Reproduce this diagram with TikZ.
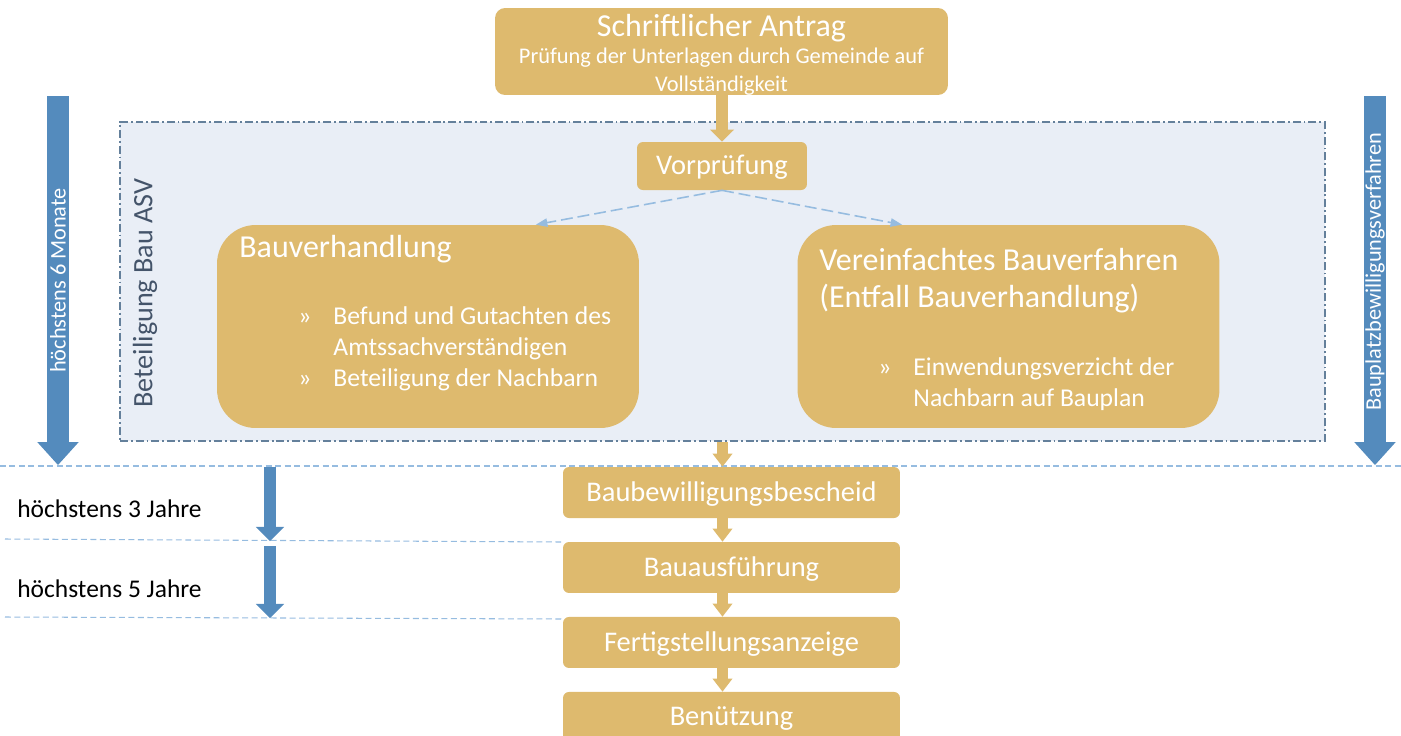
\documentclass[tikz,border=0pt]{standalone}
\usepackage{fontspec}
\setmainfont{Carlito}
\usetikzlibrary{positioning}
\usetikzlibrary{arrows.meta}
\definecolor{gold}{RGB}{222,186,110}
\definecolor{asvfill}{RGB}{233,238,246}
\definecolor{asvline}{RGB}{100,128,155}
\definecolor{asvtext}{RGB}{68,84,106}
\definecolor{arrowblue}{RGB}{84,139,189}
\definecolor{lineblue}{RGB}{150,188,224}
\newcommand{\bul}{\makebox[20pt][l]{»}} % bullet of the lists
\tikzset{node distance=1.5cm, % Distance between the steps at the bottom
stepbox/.style={ % Golden boxes of the procedure
fill=gold,
rounded corners=3.4pt,
inner sep=0pt,
text=white,
text height=1.12em,
text depth=0.15em,
font=\fontsize{16.2pt}{19pt}\selectfont},
bigbox/.style={ % The two variants of the procedure
fill=gold,
rounded corners=22pt,
inner sep=0pt,
minimum width=8.44cm,
minimum height=4.06cm},
headtext/.style={ % Headings in the boxes
text=white,
inner sep=0pt,
font=\fontsize{18.2pt}{20.5pt}\selectfont},
subtext/.style={ % Small text in the first box
text=white,
inner sep=0pt,
font=\fontsize{12.75pt}{16pt}\selectfont},
listtext/.style={ % Bullet lists
text=white,
inner sep=0pt,
align=left,
font=\fontsize{14.6pt}{17.4pt}\selectfont},
asvframe/.style={ % Frame round the part of the ASV
fill=asvfill,
draw=asvline,
line width=0.85pt,
dash pattern=on 4.5pt off 1.7pt on 1pt off 1.7pt},
goldarrow/.style={ % Arrows between the steps
draw=gold,
line width=5.7pt,
-{Triangle[width=11.4pt,length=7.4pt,line width=0pt]}},
optarrow/.style={ % Dashed arrows to the two variants
draw=lineblue,
line width=0.9pt,
dash pattern=on 6.8pt off 2.8pt,
-{Triangle[width=5pt,length=6.5pt,line width=0pt]}},
timeline/.style={ % Dashed lines between the periods
draw=lineblue,
line width=0.6pt,
dash pattern=on 3.4pt off 2pt},
longarrow/.style={ % Big blue arrows at the sides
draw=arrowblue,
line width=13pt,
-{Triangle[width=23.5pt,length=13pt,line width=0pt]}},
shortarrow/.style={ % Small blue arrows of the periods
draw=arrowblue,
line width=6.8pt,
-{Triangle[width=16pt,length=8pt,line width=0pt]}},
arrowlabel/.style={ % Text on the blue arrows
text=white,
inner sep=0pt,
font=\fontsize{12.7pt}{15pt}\selectfont},
sidetext/.style={ % Periods on the left
text=black,
inner sep=0pt,
font=\fontsize{14.5pt}{17pt}\selectfont}}

\begin{document}
\begin{tikzpicture}[x=0.02cm, y=-0.02cm]
\useasboundingbox (0,0) rectangle (1401,735);
% part of the ASV
\node[asvframe, minimum width=24.1cm, minimum height=6.38cm] (frame) at (722.5,281.5) {};
\node[inner sep=0pt, text=asvtext, rotate=90, font=\fontsize{16pt}{19pt}\selectfont] (asv) at (145,293) {Beteiligung Bau ASV};

% lines between the periods
\draw[timeline] (0,466) -- (1401,466);
\draw[timeline] (5,539) -- (563,542);
\draw[timeline] (5,617) -- (563,619);

% first step
\node[stepbox, rounded corners=5.7pt, minimum width=9.06cm, minimum height=1.74cm] (antrag) at (721.5,51.5) {};
\node[headtext, anchor=base] (antragtitle) at (721.5,36) {Schriftlicher Antrag};
\node[subtext, anchor=base] (antragsub) at (721.5,63) {Prüfung der Unterlagen durch Gemeinde auf};
\node[subtext, anchor=base] (antragsub2) at (721.5,91) {Vollständigkeit};

\node[stepbox, minimum width=3.4cm, minimum height=0.96cm] (vorpr) at (722,166) {Vorprüfung};

% the two variants (multi-line texts are placed by their last line)
\node[bigbox] (bauverh) at (428,326.5) {};
\node[headtext, anchor=base west] (bauverhtitle) at (239,257) {Bauverhandlung};
\node[listtext, anchor=base west] (bauverhlist) at (298,386) {\bul Befund und Gutachten des\\\hspace*{20pt}Amtssachverständigen\\\bul Beteiligung der Nachbarn};

\node[bigbox] (vereinf) at (1008.5,326.5) {};
\node[headtext, align=left, anchor=base west] (vereinftitle) at (819,307) {Vereinfachtes Bauverfahren\\(Entfall Bauverhandlung)};
\node[listtext, anchor=base west] (vereinflist) at (878,406) {\bul Einwendungsverzicht der\\\hspace*{20pt}Nachbarn auf Bauplan};

% steps after the decision
\node[stepbox, minimum width=6.74cm, minimum height=1.02cm] (bescheid) at (731.5,492.5) {Baubewilligungsbescheid};
\node[stepbox, minimum width=6.74cm, minimum height=1.02cm, below of=bescheid] (ausf) {Bauausführung};
\node[stepbox, minimum width=6.74cm, minimum height=1.02cm, below of=ausf] (fertig) {Fertigstellungsanzeige};
\node[stepbox, minimum width=6.74cm, minimum height=1.02cm, below of=fertig] (benutz) {Benützung};

\draw (antrag.south -| vorpr) edge[goldarrow, line width=6.8pt, -{Triangle[width=13.7pt,length=6.8pt,line width=0pt]}] (vorpr.north)
(frame.south) edge[goldarrow] (bescheid.north -| frame.south)
(bescheid.south -| frame.south) edge[goldarrow] (ausf.north -| frame.south)
(ausf.south -| frame.south) edge[goldarrow] (fertig.north -| frame.south)
(fertig.south -| frame.south) edge[goldarrow] (benutz.north -| frame.south);

\draw (vorpr.south) edge[optarrow] ([xshift=2.16cm]bauverh.north)
(vorpr.south) edge[optarrow] ([xshift=-2.13cm]vereinf.north);

% periods
\coordinate (m6top) at (58,96);
\coordinate (m6end) at (58,465);
\draw[longarrow] (m6top) -- node[arrowlabel, rotate=90] (m6) {höchstens 6 Monate} (m6end);
\coordinate (bptop) at (1375,96);
\coordinate (bpend) at (1375,465);
\draw[longarrow] (bptop) -- node[arrowlabel, rotate=90, xshift=5pt] (bp) {Bauplatzbewilligungsverfahren} (bpend);

\coordinate (j3top) at (270,467);
\coordinate (j3end) at (270,541);
\draw[shortarrow] (j3top) -- (j3end);
\coordinate (j5top) at (270,546);
\coordinate (j5end) at (270,618);
\draw[shortarrow] (j5top) -- (j5end);
\node[sidetext, anchor=west] (j3) at (17,509) {höchstens 3 Jahre};
\node[sidetext, anchor=west] (j5) at (17,589) {höchstens 5 Jahre};
\end{tikzpicture}
\end{document}
